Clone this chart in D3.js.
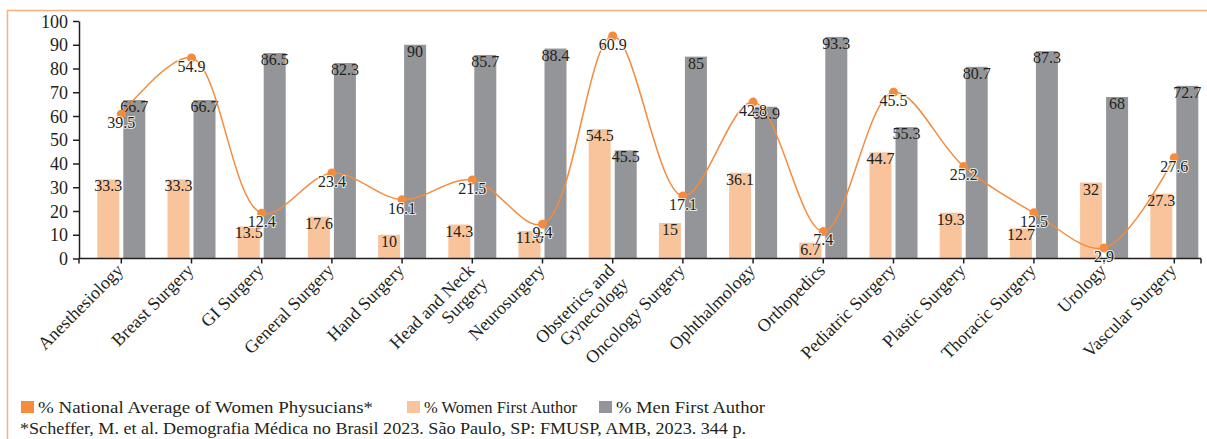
<!DOCTYPE html>
<html>
<head>
<meta charset="utf-8">
<script src="https://cdn.jsdelivr.net/npm/d3@7"></script>
<style>
  html, body { margin: 0; padding: 0; background: #fff; }
  svg { display: block; }
  svg text { font-family: "Liberation Serif", "DejaVu Serif", serif; }
</style>
</head>
<body>
<svg id="chart" width="1207" height="439"></svg>
<script>
// Specialties on the category axis
const categories = [
  "Anesthesiology", "Breast Surgery", "GI Surgery", "General Surgery",
  "Hand Surgery", "Head and Neck Surgery", "Neurosurgery",
  "Obstetrics and Gynecology", "Oncology Surgery", "Ophthalmology",
  "Orthopedics", "Pediatric Surgery", "Plastic Surgery",
  "Thoracic Surgery", "Urology", "Vascular Surgery"
];
// Tick labels as drawn (some wrap onto two lines)
const tickLabels = [
  ["Anesthesiology"], ["Breast Surgery"], ["GI Surgery"], ["General Surgery"],
  ["Hand Surgery"], ["Head and Neck", "Surgery"], ["Neurosurgery"],
  ["Obstetrics and", "Gynecology"], ["Oncology Surgery"], ["Ophthalmology"],
  ["Orthopedics"], ["Pediatric Surgery"], ["Plastic Surgery"],
  ["Thoracic Surgery"], ["Urology"], ["Vascular Surgery"]
];
// % Women First Author
const womenFirst = [33.3, 33.3, 13.5, 17.6, 10, 14.3, 11.6, 54.5, 15, 36.1, 6.7, 44.7, 19.3, 12.7, 32, 27.3];
// % Men First Author
const menFirst = [66.7, 66.7, 86.5, 82.3, 90, 85.7, 88.4, 45.5, 85, 63.9, 93.3, 55.3, 80.7, 87.3, 68, 72.7];
// % National Average of Women Physicians (secondary, unlabelled axis)
const nationalAvg = [39.5, 54.9, 12.4, 23.4, 16.1, 21.5, 9.4, 60.9, 17.1, 42.8, 7.4, 45.5, 25.2, 12.5, 2.9, 27.6];
// Axis ticks
const yTicks = [0, 10, 20, 30, 40, 50, 60, 70, 80, 90, 100];
const yDomain = [0, 100];
const y2Domain = [0, 65];

const legendItems = [
  { label: "% National Average of Women Physucians*", color: "#F58B3C", x: 21, len: 335 },
  { label: "% Women First Author", color: "#F9C49C", x: 407, len: 153 },
  { label: "% Men First Author", color: "#939598", x: 599, len: 149 }
];
const footnote = "*Scheffer, M. et al. Demografia Médica no Brasil 2023. São Paulo, SP: FMUSP, AMB, 2023. 344 p.";

const COLORS = { women: "#F9C49C", men: "#939598", line: "#F58B3C", frame: "#F9B07C", ink: "#231F20" };

const svg = d3.select("#chart");

// Frame
svg.append("path")
  .attr("d", "M1207,10.5 H7.5 V439")
  .attr("fill", "none")
  .attr("stroke", COLORS.frame)
  .attr("stroke-width", 1.5);

const plotLeft = 79, plotRight = 1201;
const y = d3.scaleLinear().domain(yDomain).range([258.5, 21]);
const y2 = d3.scaleLinear().domain(y2Domain).range([258.5, 21]);
const x = d3.scaleBand().domain(categories).range([86.2, 1209.4]).paddingInner(0).paddingOuter(0);
const cx = d => x(d) + x.bandwidth() / 2;
const barW = 22, barOff = 13;

const rows = categories.map((c, i) => ({ c, w: womenFirst[i], m: menFirst[i], n: nationalAvg[i] }));

// Bars
const g = svg.append("g");
g.selectAll("rect.women").data(rows).join("rect")
  .attr("class", "women")
  .attr("x", d => cx(d.c) - barOff - barW / 2)
  .attr("width", barW)
  .attr("y", d => y(d.w))
  .attr("height", d => y(0) - y(d.w))
  .attr("fill", COLORS.women);
g.selectAll("rect.men").data(rows).join("rect")
  .attr("class", "men")
  .attr("x", d => cx(d.c) + barOff - barW / 2)
  .attr("width", barW)
  .attr("y", d => y(d.m))
  .attr("height", d => y(0) - y(d.m))
  .attr("fill", COLORS.men);

// Bar value labels (inside top)
const labelFont = 16;
g.selectAll("text.wlab").data(rows).join("text")
  .attr("class", "wlab")
  .attr("x", d => cx(d.c) - barOff)
  .attr("y", d => y(d.w) + 12)
  .attr("text-anchor", "middle")
  .attr("font-size", labelFont)
  .attr("fill", COLORS.ink)
  .text(d => d.w);
g.selectAll("text.mlab").data(rows).join("text")
  .attr("class", "mlab")
  .attr("x", d => cx(d.c) + barOff)
  .attr("y", d => y(d.m) + 12)
  .attr("text-anchor", "middle")
  .attr("font-size", labelFont)
  .attr("fill", COLORS.ink)
  .text(d => d.m);

// Axes
const yAxis = d3.axisLeft(y).tickValues(yTicks).tickSize(6).tickPadding(5).tickSizeOuter(0);
const ya = svg.append("g").attr("transform", `translate(${plotLeft},0)`).call(yAxis)
  .attr("font-size", 18);
ya.select(".domain").attr("stroke", COLORS.ink).attr("stroke-width", 1.5);
ya.selectAll(".tick line").attr("stroke", COLORS.ink).attr("stroke-width", 1.5);
ya.selectAll(".tick text").attr("fill", COLORS.ink).attr("dy", "0.34em");

const xAxis = d3.axisBottom(x).tickSize(5).tickFormat("");
const xa = svg.append("g").attr("transform", `translate(0,${y(0)})`).call(xAxis)
  .attr("font-size", 18);
xa.select(".domain").remove();
xa.selectAll(".tick line").attr("stroke", COLORS.ink).attr("stroke-width", 1.5);
xa.append("line").attr("x1", plotLeft).attr("x2", plotRight).attr("y1", 0).attr("y2", 0)
  .attr("stroke", COLORS.ink).attr("stroke-width", 1.5);
[plotLeft, plotRight].forEach(px => xa.append("line")
  .attr("x1", px).attr("x2", px).attr("y1", 0).attr("y2", 5)
  .attr("stroke", COLORS.ink).attr("stroke-width", 1.5));

// Rotated category labels
xa.selectAll(".tick").each(function (d, i) {
  const t = d3.select(this).append("text")
    .attr("text-anchor", "end")
    .attr("fill", COLORS.ink)
    .attr("transform", "translate(3,13) rotate(-45)");
  tickLabels[i].forEach((line, k) => {
    t.append("tspan").attr("x", 0).attr("dy", k === 0 ? 0 : "1.05em").text(line);
  });
});

// Smoothed national-average line on the secondary scale
const line = d3.line()
  .x(d => cx(d.c))
  .y(d => y2(d.n))
  .curve(d3.curveCatmullRom.alpha(0.5));
svg.append("path").datum(rows)
  .attr("d", line)
  .attr("fill", "none")
  .attr("stroke", COLORS.line)
  .attr("stroke-width", 1.5);
svg.selectAll("circle.pt").data(rows).join("circle")
  .attr("class", "pt")
  .attr("cx", d => cx(d.c))
  .attr("cy", d => y2(d.n))
  .attr("r", 4.5)
  .attr("fill", COLORS.line);
svg.append("g")
  .selectAll("text.nlab").data(rows).join("text")
  .attr("class", "nlab")
  .attr("x", d => cx(d.c))
  .attr("y", d => y2(d.n) + 14)
  .attr("text-anchor", "middle")
  .attr("font-size", labelFont)
  .attr("fill", COLORS.ink)
  .attr("stroke", "#fff")
  .attr("stroke-width", 2)
  .attr("stroke-opacity", 0.8)
  .attr("paint-order", "stroke")
  .text(d => d.n);

// Legend
const lg = svg.append("g");
legendItems.forEach(it => {
  lg.append("rect").attr("x", it.x).attr("y", 401).attr("width", 13).attr("height", 12).attr("fill", it.color);
  lg.append("text").attr("x", it.x + 17).attr("y", 413)
    .attr("font-size", 17).attr("fill", COLORS.ink)
    .attr("textLength", it.len).attr("lengthAdjust", "spacingAndGlyphs")
    .text(it.label);
});
lg.append("text").attr("x", 20).attr("y", 434)
  .attr("font-size", 17).attr("fill", COLORS.ink)
  .attr("textLength", 726).attr("lengthAdjust", "spacingAndGlyphs")
  .text(footnote);
</script>
</body>
</html>
